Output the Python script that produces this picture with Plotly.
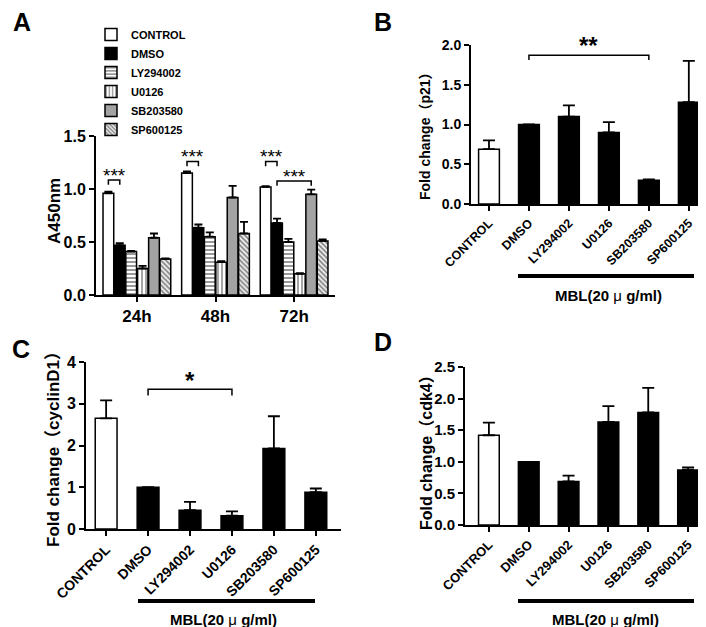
import plotly.graph_objects as go

W, H = 706, 627
def px(x): return x / W
def py(y): return 1 - y / H

# ---------------- data ----------------
groups = ["24h", "48h", "72h"]
a_series = ["CONTROL", "DMSO", "LY294002", "U0126", "SB203580", "SP600125"]
a_control = [0.96, 1.15, 1.02]
a_control_err = [0.015, 0.015, 0.008]
a_dmso = [0.47, 0.635, 0.68]
a_dmso_err = [0.02, 0.03, 0.04]
a_ly = [0.41, 0.55, 0.50]
a_ly_err = [0.006, 0.04, 0.03]
a_u0126 = [0.25, 0.31, 0.20]
a_u0126_err = [0.025, 0.01, 0.006]
a_sb = [0.54, 0.92, 0.95]
a_sb_err = [0.04, 0.11, 0.045]
a_sp = [0.34, 0.58, 0.51]
a_sp_err = [0.006, 0.11, 0.015]

treatments = ["CONTROL", "DMSO", "LY294002", "U0126", "SB203580", "SP600125"]
p21 = [0.69, 1.00, 1.10, 0.90, 0.30, 1.28]
p21_err = [0.11, 0.0, 0.14, 0.13, 0.01, 0.52]
cyclinD1 = [2.65, 1.00, 0.45, 0.32, 1.93, 0.88]
cyclinD1_err = [0.43, 0.0, 0.20, 0.10, 0.77, 0.09]
cdk4 = [1.42, 1.00, 0.69, 1.63, 1.78, 0.87]
cdk4_err = [0.20, 0.0, 0.09, 0.25, 0.39, 0.04]

FONT = "Liberation Sans, Arial, Noto Sans CJK SC, sans-serif"

fig = go.Figure()

# ---------------- panel A ----------------
a_values = [a_control, a_dmso, a_ly, a_u0126, a_sb, a_sp]
a_errs = [a_control_err, a_dmso_err, a_ly_err, a_u0126_err, a_sb_err, a_sp_err]
a_styles = [
    dict(color="white"),
    dict(color="black"),
    dict(color="white", pattern=dict(shape="-", fgcolor="black", bgcolor="white", size=4, solidity=0.4)),
    dict(color="white", pattern=dict(shape="|", fgcolor="black", bgcolor="white", size=4, solidity=0.35)),
    dict(color="#a3a3a3"),
    dict(color="white", pattern=dict(shape="\\", fgcolor="black", bgcolor="white", size=3.5, solidity=0.55)),
]
xs = list(range(len(groups)))
for name, vals, errs, st in zip(a_series, a_values, a_errs, a_styles):
    fig.add_trace(go.Bar(
        x=xs, y=vals, name=name, xaxis="x", yaxis="y",
        marker=dict(line=dict(color="black", width=1.5), **st),
        error_y=dict(type="data", array=errs, arrayminus=[0] * len(errs), symmetric=False,
                     color="black", thickness=1.8, width=4),
        showlegend=True,
    ))

BARGAP = 0.13
slot = (1 - BARGAP) / len(a_series)
def a_pos(g, i):
    return g - (1 - BARGAP) / 2 + (i + 0.5) * slot

# ---------------- panels B, C, D ----------------
panel_data = [("x2", "y2", p21, p21_err), ("x3", "y3", cyclinD1, cyclinD1_err), ("x4", "y4", cdk4, cdk4_err)]
bar_colors = ["white"] + ["black"] * (len(treatments) - 1)
for xa, ya, vals, errs in panel_data:
    fig.add_trace(go.Bar(
        x=list(range(len(treatments))), y=vals, xaxis=xa, yaxis=ya, width=0.52,
        marker=dict(color=bar_colors, line=dict(color="black", width=1.5)),
        error_y=dict(type="data", array=errs, arrayminus=[0] * len(errs), symmetric=False,
                     color="black", thickness=1.8, width=6),
        showlegend=False,
    ))

def yax(domain, rng, dtick, fmt, size, anchor):
    return dict(domain=domain, range=rng, dtick=dtick, tick0=0, tickformat=fmt, anchor=anchor,
                showline=True, linecolor="black", linewidth=2, ticks="outside",
                ticklen=5, tickwidth=2, tickcolor="black", showgrid=False, zeroline=False,
                tickfont=dict(family=FONT, size=size, color="black", weight="bold"),
                automargin=False, fixedrange=True)

def xax(domain, rng, anchor, ticktext, size, angle):
    return dict(domain=domain, range=rng, anchor=anchor, tickmode="array",
                tickvals=list(range(len(ticktext))), ticktext=ticktext, tickangle=angle,
                showline=True, linecolor="black", linewidth=2, ticks="outside",
                ticklen=5, tickwidth=2, tickcolor="black", showgrid=False, zeroline=False,
                tickfont=dict(family=FONT, size=size, color="black", weight="bold"),
                automargin=False)

fig.update_layout(
    width=W, height=H, margin=dict(l=0, r=0, t=0, b=0, autoexpand=False),
    paper_bgcolor="white", plot_bgcolor="white",
    barmode="group", bargap=BARGAP, bargroupgap=0.06,
    font=dict(family=FONT, color="black"),
    xaxis=xax([px(88), px(327)], [-0.52, 2.52], "y", groups, 17, 0),
    yaxis=yax([py(287), py(128)], [0, 1.5], 0.5, ".1f", 16, "x"),
    xaxis2=xax([px(463), px(700)], [-0.45, 5.48], "y2", treatments, 12.5, -45),
    yaxis2=yax([py(196), py(37)], [0, 2.0], 0.5, ".1f", 14, "x2"),
    xaxis3=xax([px(78), px(333)], [-0.48, 5.6], "y3", treatments, 14, -45),
    yaxis3=yax([py(521), py(354)], [0, 4], 1, "d", 16, "x3"),
    xaxis4=xax([px(457), px(700)], [-0.6, 5.5], "y4", treatments, 13, -45),
    yaxis4=yax([py(517), py(359)], [0, 2.5], 0.5, ".1f", 15, "x4"),
    legend=dict(x=px(83), y=py(12), xanchor="left", yanchor="top",
                font=dict(family=FONT, size=11, color="black", weight="bold"),
                bgcolor="rgba(0,0,0,0)", itemwidth=30, traceorder="normal"),
)

shapes = []
annotations = []

def bracket(xref, yref, x1, x2, ytop, ylow):
    shapes.append(dict(type="path", xref=xref, yref=yref,
                       path=f"M {x1},{ylow} L {x1},{ytop} L {x2},{ytop} L {x2},{ylow}",
                       line=dict(color="black", width=1.5)))

def stars(xref, yref, x, y, text, size, bold=False):
    annotations.append(dict(xref=xref, yref=yref, x=x, y=y, text=text, showarrow=False,
                            xanchor="center", yanchor="middle",
                            font=dict(family=FONT, size=size, color="black",
                                      weight="bold" if bold else "normal")))

# panel A significance
bracket("x", "y", a_pos(0, 0), a_pos(0, 1), 1.085, 1.04)
stars("x", "y", (a_pos(0, 0) + a_pos(0, 1)) / 2, 1.13, "***", 19)
bracket("x", "y", a_pos(1, 0), a_pos(1, 1), 1.26, 1.215)
stars("x", "y", (a_pos(1, 0) + a_pos(1, 1)) / 2, 1.305, "***", 19)
bracket("x", "y", a_pos(2, 0), a_pos(2, 1), 1.26, 1.215)
stars("x", "y", (a_pos(2, 0) + a_pos(2, 1)) / 2, 1.305, "***", 19)
bracket("x", "y", a_pos(2, 1), a_pos(2, 4), 1.075, 1.03)
stars("x", "y", (a_pos(2, 1) + a_pos(2, 4)) / 2, 1.12, "***", 19)

# panel B / C significance
bracket("x2", "y2", 1, 4, 1.87, 1.81)
stars("x2", "y2", 2.5, 1.99, "**", 24, True)
bracket("x3", "y3", 1, 3, 3.35, 3.2)
stars("x3", "y3", 2, 3.56, "*", 24, True)

# MBL lines and labels
MBL = "MBL(20 <span style=\"font-weight:normal\">μ</span> g/ml)"
for (x0, x1, yl, xt, yt) in [(510, 686, 268, 600, 288), (130, 307, 593, 215, 611), (510, 686, 593, 597, 611)]:
    shapes.append(dict(type="line", xref="paper", yref="paper", x0=px(x0), x1=px(x1),
                       y0=py(yl), y1=py(yl), line=dict(color="black", width=4)))
    annotations.append(dict(xref="paper", yref="paper", x=px(xt), y=py(yt), text=MBL,
                            showarrow=False, xanchor="center", yanchor="middle",
                            font=dict(family=FONT, size=15, color="black", weight="bold")))

# axis titles
for text, x, y, size in [("A450nm", 46, 203, 17), ("Fold change（p21）", 417, 125, 14),
                         ("Fold change（cyclinD1）", 45, 437, 17), ("Fold change（cdk4）", 418, 441, 16)]:
    annotations.append(dict(xref="paper", yref="paper", x=px(x), y=py(y), text=text,
                            textangle=-90, showarrow=False, xanchor="center", yanchor="middle",
                            font=dict(family=FONT, size=size, color="black", weight="bold")))

# panel letters
for text, x, y in [("A", 14, 14), ("B", 375, 14), ("C", 13, 341), ("D", 375, 334)]:
    annotations.append(dict(xref="paper", yref="paper", x=px(x), y=py(y), text=text,
                            showarrow=False, xanchor="center", yanchor="middle",
                            font=dict(family=FONT, size=25, color="black", weight="bold")))

fig.update_layout(shapes=shapes, annotations=annotations)
fig.write_html("out.html")
